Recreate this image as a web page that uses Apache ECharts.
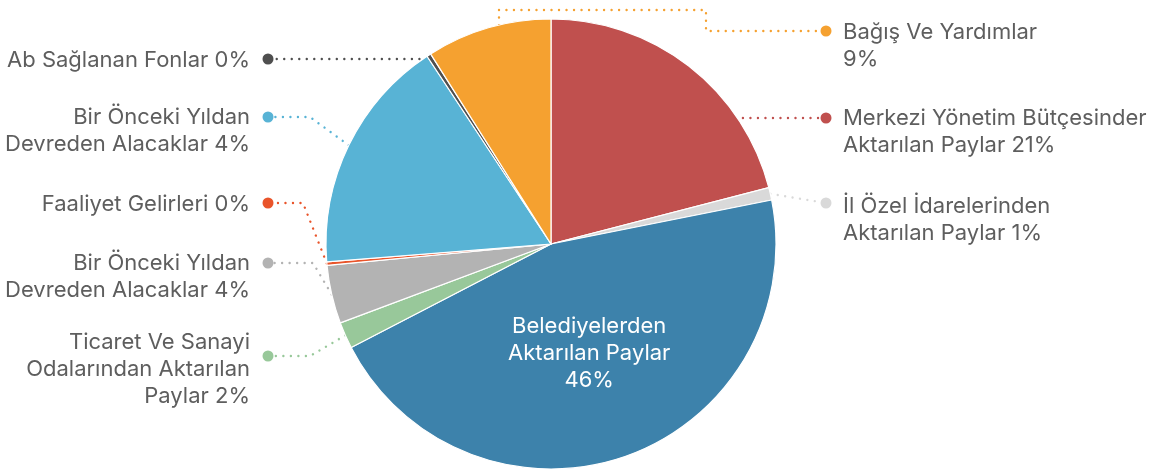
<!DOCTYPE html>
<html><head><meta charset="utf-8">
<script src="https://cdn.jsdelivr.net/npm/echarts@6/dist/echarts.min.js"></script>
<style>html,body{margin:0;padding:0;background:#fff}#c{width:1161px;height:471px}</style>
</head><body><div id="c"></div>
<script>
// ---- data ----
const categories = [
  "Merkezi Yönetim Bütçesinder\nAktarılan Paylar",
  "İl Özel İdarelerinden\nAktarılan Paylar",
  "Belediyelerden\nAktarılan Paylar\n",
  "Ticaret Ve Sanayi\nOdalarından Aktarılan\nPaylar",
  "Bir Önceki Yıldan\nDevreden Alacaklar",
  "Faaliyet Gelirleri",
  "Bir Önceki Yıldan\nDevreden Alacaklar",
  "Ab Sağlanan Fonlar",
  "Bağış Ve Yardımlar\n"
];
const values = [21.0, 0.9, 45.6, 1.9, 4.2, 0.25, 17.0, 0.3, 9.0];
const percentLabels = ["21%", "1%", "46%", "2%", "4%", "0%", "4%", "0%", "9%"];
const colors = ["#c0504e", "#d9d9d9", "#3d82ab", "#98c89a", "#b3b3b3", "#e9542a", "#58b3d5", "#4f4f4f", "#f5a130"];

// ---- layout ----
const CX = 551, CY = 244, R = 225;
const FONT = 'Inter';
const FS = 22, LH = 27, TEXT_COLOR = '#5e5e5e';
const dotY  = [118, 203, null, 356, 263, 203, 117, 59, 31];
const textY = [118, 206, null, 342, 263, 204, 117, 60, 32];
const side = ['r', 'r', null, 'l', 'l', 'l', 'l', 'l', 'r'];
const kind = ['h', 'direct', null, 'elbow', 'elbow', 'elbow', 'elbow', 'h', 'bracket'];
const elbowX = {3: 310, 4: 313, 5: 303, 6: 310};
const DOT_R = 826, DOT_L = 268, DOT = 11;
const TEXT_R = 843, TEXT_L = 250;

function labelText(i) {
  const name = categories[i];
  return name + (name.endsWith('\n') ? '' : ' ') + percentLabels[i];
}

const data = values.map((v, i) => {
  const d = {value: v, name: categories[i].replace(/\n/g, ' ').trim(), itemStyle: {color: colors[i]}};
  if (side[i] === null) {
    d.label = {position: 'inside', color: '#ffffff', align: 'center'};
    d.labelLine = {show: false};
  } else {
    d.label = {align: side[i] === 'r' ? 'left' : 'right'};
  }
  return d;
});

const dotRich = {};
colors.forEach((c, i) => {
  dotRich['d' + i] = {width: DOT, height: DOT, borderRadius: DOT / 2, backgroundColor: c};
});
const dotData = values.map((v, i) => ({
  value: v,
  name: 'dot' + i,
  label: {show: side[i] !== null}
}));

const chart = echarts.init(document.getElementById('c'), null, {renderer: 'canvas'});
chart.setOption({
  animation: false,
  series: [{
    type: 'pie',
    center: [CX, CY],
    radius: R,
    startAngle: 90,
    clockwise: true,
    avoidLabelOverlap: false,
    emphasis: {disabled: true},
    itemStyle: {borderColor: '#ffffff', borderWidth: 1.2},
    label: {
      show: true,
      position: 'outside',
      formatter: p => labelText(p.dataIndex),
      fontFamily: FONT, fontSize: FS, lineHeight: LH, color: TEXT_COLOR
    },
    labelLine: {show: true, lineStyle: {width: 2.4, type: [0.01, 7.5], cap: 'round'}},
    labelLayout: function (p) {
      const i = p.dataIndex;
      if (side[i] == null) return {};
      const y = dotY[i];
      const isR = side[i] === 'r';
      const dotX = isR ? DOT_R : DOT_L;
      const p0 = p.labelLinePoints ? p.labelLinePoints[0] : [CX, CY];
      let pts;
      if (kind[i] === 'h') {
        const dx = Math.sqrt(R * R - (y - CY) * (y - CY));
        pts = [[isR ? CX + dx - 2 : CX - dx + 4, y], [dotX, y]];
      } else if (kind[i] === 'direct') {
        pts = [[p0[0], p0[1]], [dotX, y]];
      } else if (kind[i] === 'elbow') {
        pts = [[p0[0], p0[1]], [elbowX[i], y], [dotX, y]];
      } else {
        const bx = 499, by = CY - Math.sqrt(R * R - (bx - CX) * (bx - CX));
        pts = [[bx, by], [bx, 10], [706, 10], [706, y], [dotX, y]];
      }
      return {
        x: isR ? TEXT_R : TEXT_L,
        y: textY[i] - LH / 2,
        align: isR ? 'left' : 'right',
        verticalAlign: 'top',
        labelLinePoints: pts
      };
    },
    data: data
  }, {
    type: 'pie',
    center: [CX, CY],
    radius: R,
    startAngle: 90,
    clockwise: true,
    silent: true,
    avoidLabelOverlap: false,
    emphasis: {disabled: true},
    itemStyle: {color: 'rgba(0,0,0,0)', borderWidth: 0},
    label: {
      show: true,
      position: 'outside',
      formatter: p => '{d' + p.dataIndex + '|}',
      rich: dotRich
    },
    labelLine: {show: false},
    labelLayout: function (p) {
      const i = p.dataIndex;
      if (side[i] == null) return {};
      return {
        x: side[i] === 'r' ? DOT_R : DOT_L,
        y: dotY[i],
        align: 'center',
        verticalAlign: 'middle'
      };
    },
    data: dotData
  }]
});
</script>
</body></html>
